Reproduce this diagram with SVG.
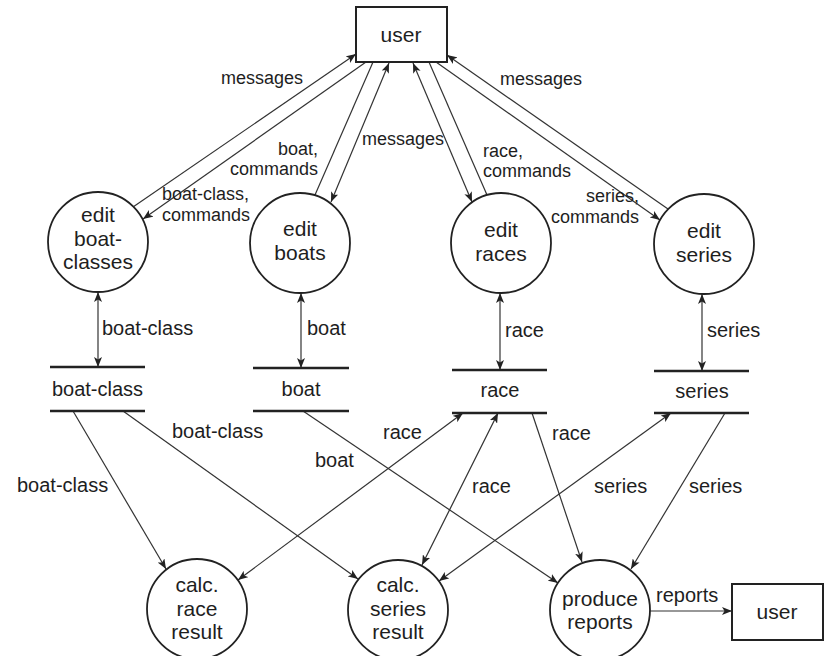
<svg xmlns="http://www.w3.org/2000/svg" width="829" height="656" viewBox="0 0 829 656">
  <defs>
    <marker id="head" viewBox="0 0 10 8" refX="10" refY="4" markerWidth="10" markerHeight="8" markerUnits="userSpaceOnUse" orient="auto-start-reverse">
      <path d="M0,0 L10,4 L0,8 L2.5,4 Z" fill="#222"/>
    </marker>
  </defs>
  <style>
    text { font-family: "Liberation Sans", Arial, sans-serif; fill: #1e1e1e; }
    .node { font-size: 21px; text-anchor: middle; }
    .lbl { font-size: 18px; }
    .lbl2 { font-size: 20px; }
    .end { text-anchor: end; }
    .mid { text-anchor: middle; }
    .proc { fill: #fff; stroke: #222; stroke-width: 1.8; }
    .ext { fill: #fff; stroke: #222; stroke-width: 2; }
    .store { stroke: #222; stroke-width: 2.5; }
    .flow { fill: none; stroke: #333; stroke-width: 1.2; }
    .to { marker-end: url(#head); }
    .both { marker-start: url(#head); marker-end: url(#head); }
  </style>
  <rect width="829" height="656" fill="#fff"/>

  <!-- connectors -->
  <g id="connectors">
    <!-- user <-> edit processes -->
    <line class="flow to" x1="133" y1="207" x2="356" y2="54"/>
    <line class="flow to" x1="366" y1="62" x2="143" y2="219"/>
    <line class="flow" x1="373" y1="62" x2="315" y2="195"/>
    <line class="flow both" x1="331" y1="202" x2="389" y2="63"/>
    <line class="flow both" x1="413" y1="63" x2="472" y2="202"/>
    <line class="flow" x1="429" y1="62" x2="487" y2="195"/>
    <line class="flow to" x1="436" y1="62" x2="660" y2="220"/>
    <line class="flow to" x1="668" y1="209" x2="447" y2="55"/>

    <!-- edit processes <-> stores -->
    <line class="flow both" x1="98" y1="292" x2="98" y2="367"/>
    <line class="flow both" x1="301" y1="293" x2="301" y2="368"/>
    <line class="flow both" x1="500" y1="293" x2="500" y2="370"/>
    <line class="flow both" x1="702" y1="294" x2="702" y2="371"/>

    <!-- stores -> calculation / report processes -->
    <line class="flow to" x1="73" y1="411" x2="166" y2="569"/>
    <line class="flow to" x1="123" y1="411" x2="358" y2="579"/>
    <line class="flow to" x1="303" y1="411" x2="558" y2="583"/>
    <line class="flow both" x1="238" y1="580" x2="463" y2="413"/>
    <line class="flow both" x1="422" y1="565" x2="498" y2="413"/>
    <line class="flow to" x1="532" y1="413" x2="582" y2="562"/>
    <line class="flow both" x1="439" y1="581" x2="671" y2="413"/>
    <line class="flow to" x1="725" y1="413" x2="631" y2="569"/>
    <line class="flow to" x1="650" y1="611" x2="732" y2="611"/>
  </g>

  <!-- flow labels -->
  <g id="flow-labels">
    <text class="lbl" x="221" y="84">messages</text>
    <text class="lbl end" x="318" y="155">boat,</text>
    <text class="lbl end" x="318" y="175">commands</text>
    <text class="lbl" x="162" y="200">boat-class,</text>
    <text class="lbl" x="162" y="221">commands</text>
    <text class="lbl" x="362" y="145">messages</text>
    <text class="lbl" x="483" y="157">race,</text>
    <text class="lbl" x="483" y="177">commands</text>
    <text class="lbl end" x="639" y="202">series,</text>
    <text class="lbl end" x="639" y="223">commands</text>
    <text class="lbl" x="500" y="85">messages</text>

    <text class="lbl2" x="102" y="335">boat-class</text>
    <text class="lbl2" x="307" y="335">boat</text>
    <text class="lbl2" x="505" y="337">race</text>
    <text class="lbl2" x="707" y="337">series</text>

    <text class="lbl2" x="172" y="438">boat-class</text>
    <text class="lbl2" x="383" y="439">race</text>
    <text class="lbl2" x="552" y="440">race</text>
    <text class="lbl2" x="315" y="467">boat</text>
    <text class="lbl2" x="17" y="492">boat-class</text>
    <text class="lbl2" x="472" y="493">race</text>
    <text class="lbl2" x="594" y="493">series</text>
    <text class="lbl2" x="689" y="493">series</text>
    <text class="lbl2" x="656" y="602">reports</text>
  </g>

  <!-- external entity: user (top) -->
  <g id="user-top">
    <rect class="ext" x="356" y="7" width="91" height="55"/>
    <text class="node" x="401" y="42">user</text>
  </g>

  <!-- edit processes -->
  <g id="edit-boat-classes">
    <circle class="proc" cx="98" cy="242" r="50"/>
    <text class="node" x="98" y="222">edit</text>
    <text class="node" x="98" y="246">boat-</text>
    <text class="node" x="98" y="269">classes</text>
  </g>
  <g id="edit-boats">
    <circle class="proc" cx="300" cy="243" r="50"/>
    <text class="node" x="300" y="236">edit</text>
    <text class="node" x="300" y="260">boats</text>
  </g>
  <g id="edit-races">
    <circle class="proc" cx="501" cy="243" r="50"/>
    <text class="node" x="501" y="237">edit</text>
    <text class="node" x="501" y="261">races</text>
  </g>
  <g id="edit-series">
    <circle class="proc" cx="704" cy="244" r="50"/>
    <text class="node" x="704" y="238">edit</text>
    <text class="node" x="704" y="262">series</text>
  </g>

  <!-- data stores -->
  <g id="store-boat-class">
    <line class="store" x1="50" y1="367" x2="145" y2="367"/>
    <line class="store" x1="50" y1="411" x2="145" y2="411"/>
    <text class="node" x="97.5" y="396" style="font-size:20px">boat-class</text>
  </g>
  <g id="store-boat">
    <line class="store" x1="253" y1="368" x2="349" y2="368"/>
    <line class="store" x1="253" y1="411" x2="349" y2="411"/>
    <text class="node" x="301" y="396" style="font-size:20px">boat</text>
  </g>
  <g id="store-race">
    <line class="store" x1="452" y1="370" x2="547" y2="370"/>
    <line class="store" x1="452" y1="413" x2="547" y2="413"/>
    <text class="node" x="500" y="397" style="font-size:20px">race</text>
  </g>
  <g id="store-series">
    <line class="store" x1="654" y1="371" x2="749" y2="371"/>
    <line class="store" x1="654" y1="413" x2="749" y2="413"/>
    <text class="node" x="702" y="398" style="font-size:20px">series</text>
  </g>

  <!-- result / report processes -->
  <g id="calc-race-result">
    <circle class="proc" cx="197" cy="609" r="50"/>
    <text class="node" x="197" y="592">calc.</text>
    <text class="node" x="197" y="616">race</text>
    <text class="node" x="197" y="639">result</text>
  </g>
  <g id="calc-series-result">
    <circle class="proc" cx="398" cy="610" r="50"/>
    <text class="node" x="398" y="592">calc.</text>
    <text class="node" x="398" y="616">series</text>
    <text class="node" x="398" y="639">result</text>
  </g>
  <g id="produce-reports">
    <circle class="proc" cx="600" cy="610" r="50"/>
    <text class="node" x="600" y="606">produce</text>
    <text class="node" x="600" y="629">reports</text>
  </g>

  <!-- external entity: user (bottom) -->
  <g id="user-bottom">
    <rect class="ext" x="732" y="584" width="91" height="56"/>
    <text class="node" x="777" y="619">user</text>
  </g>
</svg>
